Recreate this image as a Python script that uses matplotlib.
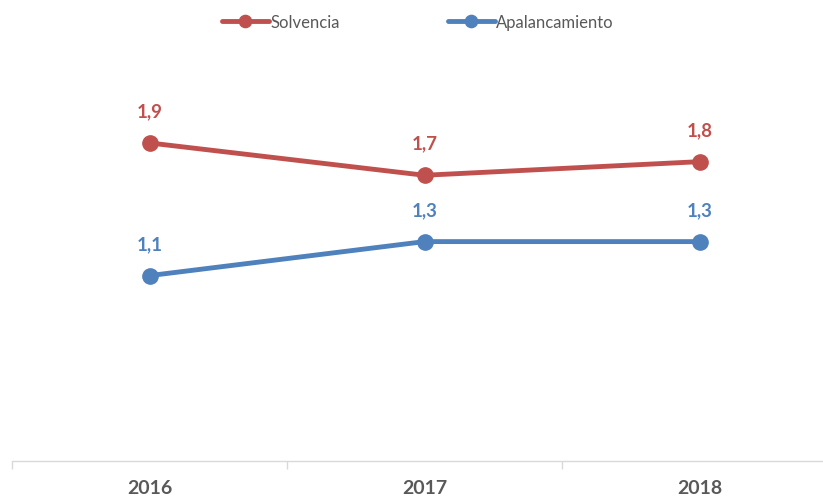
import matplotlib
matplotlib.use("Agg")
import matplotlib.pyplot as plt

years = ["2016", "2017", "2018"]
solvencia = [1.87, 1.68, 1.76]
apalancamiento = [1.09, 1.29, 1.29]

RED = "#C0504D"
BLUE = "#4F81BD"
GREY = "#595959"

plt.rcParams['font.family'] = ['Lato', 'DejaVu Sans']

W, H = 823, 502
fig = plt.figure(figsize=(W/100, H/100), dpi=100)
ax = fig.add_axes([12/W, 1-462/H, 825/W, (462-30)/H])

x = list(range(len(years)))
ax.plot(x, solvencia, color=RED, lw=3.5, marker='o', ms=11, label="Solvencia", solid_capstyle='round')
ax.plot(x, apalancamiento, color=BLUE, lw=3.5, marker='o', ms=11, label="Apalancamiento", solid_capstyle='round')

for xi, v in zip(x, solvencia):
    ax.annotate(f"{v:.1f}".replace('.', ','), (xi, v), xytext=(0, 17), textcoords='offset points',
                ha='center', va='bottom', color=RED, fontsize=13.5, fontweight='bold')
for xi, v in zip(x, apalancamiento):
    ax.annotate(f"{v:.1f}".replace('.', ','), (xi, v), xytext=(0, 17), textcoords='offset points',
                ha='center', va='bottom', color=BLUE, fontsize=13.5, fontweight='bold')

ax.set_xlim(-0.5, 2.5)
ax.set_ylim(0, 2.54)
ax.set_yticks([])
ax.set_xticks(x)
ax.set_xticklabels(years, fontsize=14, fontweight='bold', color=GREY)
ax.set_xticks([-0.5, 0.5, 1.5, 2.5], minor=True)
ax.tick_params(axis='x', which='major', length=0, pad=13)
ax.tick_params(axis='x', which='minor', length=6, color='#D9D9D9', width=1)
for s in ['top', 'right', 'left']:
    ax.spines[s].set_visible(False)
ax.spines['bottom'].set_color('#D9D9D9')
ax.spines['bottom'].set_linewidth(1)

leg = fig.legend(loc='upper center', bbox_to_anchor=(418/W, 1.0), ncol=2, frameon=False,
                 fontsize=12, handlelength=2.8, columnspacing=6.5, handletextpad=0.1,
                 markerscale=0.8)
for t in leg.get_texts():
    t.set_color(GREY)

fig.savefig("out.png", dpi=100)
